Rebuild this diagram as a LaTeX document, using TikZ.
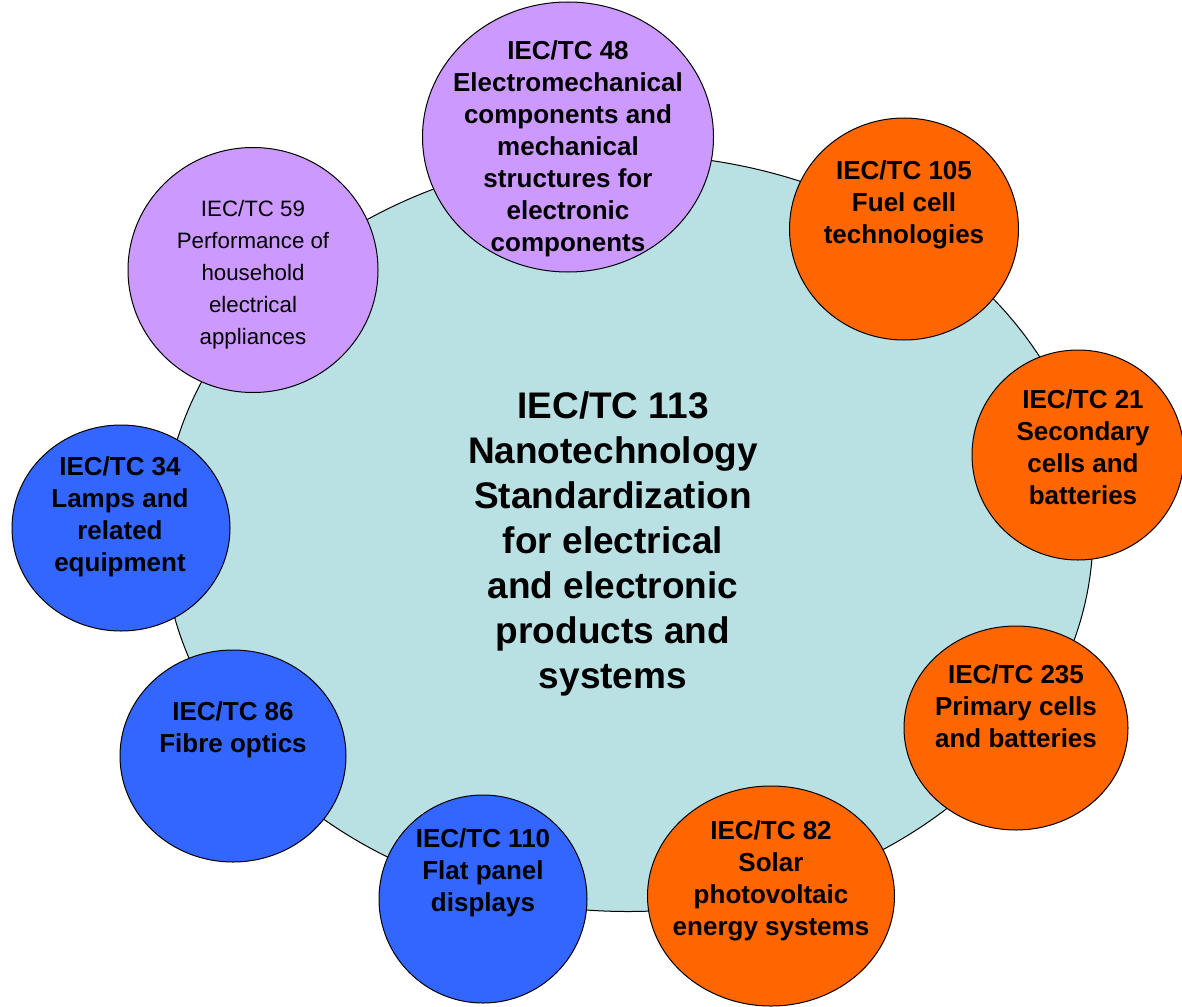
\documentclass[tikz,border=0pt]{standalone}
\usepackage{fontspec}
\setmainfont{Liberation Sans}
\usetikzlibrary{shapes.geometric}
\definecolor{hub}{HTML}{B9E0E3}
\definecolor{lilac}{HTML}{CC99FF}
\definecolor{orng}{HTML}{FF6600}
\definecolor{blu}{HTML}{3366FF}
\tikzset{
  bub/.style={ellipse, draw=black, line width=1pt, inner sep=0pt},
  txt/.style={align=center, font=\fontsize{26}{32}\selectfont\bfseries, inner sep=0pt},
  txtn/.style={align=center, font=\fontsize{22.3}{32}\selectfont, inner sep=0pt},
  big/.style={align=center, font=\fontsize{37}{45}\selectfont\bfseries, inner sep=0pt}
}
\begin{document}
\begin{tikzpicture}[x=1pt,y=-1pt]
\useasboundingbox[fill=white] (0,0) rectangle (1182,1006);
\node[bub, fill=hub, minimum width=930, minimum height=757] (hubE) at (628,533) {};
\node[big] (hubT) at (613,544) {IEC/TC 113\\Nanotechnology\\Standardization\\for electrical\\and electronic\\products and\\systems};

\node[bub, fill=lilac, minimum width=291, minimum height=270] (e48) at (568,137) {};
\node[txt] (t48) at (568,149) {IEC/TC 48\\Electromechanical\\components and\\mechanical\\structures for\\electronic\\components};

\node[bub, fill=orng, minimum width=229, minimum height=222] (e105) at (904,229) {};
\node[txt] (t105) at (904,205) {IEC/TC 105\\Fuel cell\\technologies};

\node[bub, fill=orng, minimum width=212, minimum height=210] (e21) at (1078,455) {};
\node[txt] (t21) at (1083,447) {IEC/TC 21\\Secondary\\cells and\\batteries};

\node[bub, fill=orng, minimum width=224, minimum height=204] (e235) at (1016,728) {};
\node[txt] (t235) at (1016,706) {IEC/TC 235\\Primary cells\\and batteries};

\node[bub, fill=orng, minimum width=247, minimum height=220] (e82) at (771,896) {};
\node[txt] (t82) at (771,881) {IEC/TC 82\\Solar\\photovoltaic\\energy systems};

\node[bub, fill=blu, minimum width=208, minimum height=208] (e110) at (483,899) {};
\node[txt] (t110) at (483,873) {IEC/TC 110\\Flat panel\\displays};

\node[bub, fill=blu, minimum width=226, minimum height=212] (e86) at (233,756) {};
\node[txt] (t86) at (233,730) {IEC/TC 86\\Fibre optics};

\node[bub, fill=blu, minimum width=218, minimum height=206] (e34) at (121,528) {};
\node[txt] (t34) at (120,517) {IEC/TC 34\\Lamps and\\related\\equipment};

\node[bub, fill=lilac, minimum width=250, minimum height=245] (e59) at (253,270) {};
\node[txtn] (t59) at (253,275) {IEC/TC 59\\Performance of\\household\\electrical\\appliances};
\end{tikzpicture}
\end{document}
